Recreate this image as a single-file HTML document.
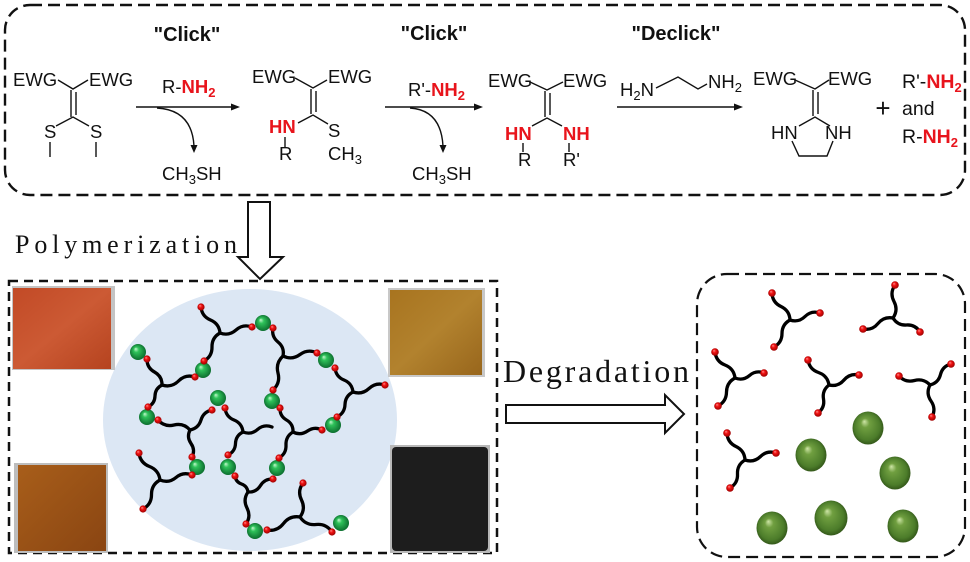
<!DOCTYPE html>
<html><head><meta charset="utf-8"><style>
html,body{margin:0;padding:0;background:#fff;}
svg{display:block;}
.ch{font-family:"Liberation Sans",Arial,sans-serif;font-size:18.5px;fill:#111;}
.rb{fill:#e8141c;font-weight:bold;}
.bd{stroke:#111;stroke-width:1.4;fill:none;}
.chain{stroke:#000;stroke-width:3.3;fill:none;stroke-linecap:round;stroke-linejoin:round;}
</style></head><body>
<svg width="970" height="562" viewBox="0 0 970 562" xmlns="http://www.w3.org/2000/svg">
<defs>
<radialGradient id="gg" cx="50%" cy="50%" r="55%" fx="35%" fy="30%">
<stop offset="0%" stop-color="#c8f8d0"/><stop offset="30%" stop-color="#2fc25a"/><stop offset="100%" stop-color="#08652a"/></radialGradient>
<radialGradient id="og" cx="50%" cy="50%" r="55%" fx="38%" fy="30%">
<stop offset="0%" stop-color="#cfe6a8"/><stop offset="25%" stop-color="#709f40"/><stop offset="75%" stop-color="#4c7c2a"/><stop offset="100%" stop-color="#2b4b14"/></radialGradient>
<radialGradient id="rg" cx="50%" cy="50%" r="55%" fx="35%" fy="30%">
<stop offset="0%" stop-color="#ff9090"/><stop offset="40%" stop-color="#f01010"/><stop offset="100%" stop-color="#900000"/></radialGradient>
<linearGradient id="p1" x1="0" y1="0" x2="1" y2="1"><stop offset="0" stop-color="#c24a26"/><stop offset="0.5" stop-color="#cc5a34"/><stop offset="1" stop-color="#b5431f"/></linearGradient>
<linearGradient id="p2" x1="0" y1="0" x2="1" y2="1"><stop offset="0" stop-color="#a85e1a"/><stop offset="1" stop-color="#8a4512"/></linearGradient>
<linearGradient id="p3" x1="0" y1="0" x2="1" y2="1"><stop offset="0" stop-color="#a8741f"/><stop offset="0.5" stop-color="#b2822e"/><stop offset="1" stop-color="#98661c"/></linearGradient>
</defs>

<!-- top dashed box -->
<rect x="5" y="5" width="960" height="190" rx="25" fill="none" stroke="#111" stroke-width="2.4" stroke-dasharray="12 6"/>

<!-- headers -->
<g font-family="Liberation Sans, Arial, sans-serif" font-weight="bold" font-size="20" fill="#111" text-anchor="middle">
<text x="187" y="41">"Click"</text>
<text x="434" y="40">"Click"</text>
<text x="676" y="40">"Declick"</text>
</g>

<!-- molecule 1 -->
<text class="ch" x="13" y="86">EWG</text>
<text class="ch" x="89" y="86">EWG</text>
<polyline class="bd" points="58,80 73,89 88,80"/>
<line class="bd" x1="71" y1="90" x2="71" y2="117"/>
<line class="bd" x1="76" y1="92" x2="76" y2="115"/>
<polyline class="bd" points="56,126 73,117 89,126"/>
<text class="ch" x="44" y="138">S</text>
<text class="ch" x="90" y="138">S</text>
<line class="bd" x1="50" y1="142" x2="50" y2="157"/>
<line class="bd" x1="96" y1="142" x2="96" y2="157"/>

<!-- arrow 1 -->
<line class="bd" x1="136" y1="107" x2="233" y2="107"/>
<polygon points="240,107 231,103.5 231,110.5" fill="#111"/>
<text class="ch" x="162" y="93">R-<tspan class="rb">NH</tspan><tspan class="rb" font-size="13" dy="4">2</tspan></text>
<path class="bd" d="M157 108 Q192 110 194 146"/>
<polygon points="194,153 190.5,145 197.5,145" fill="#111"/>
<text class="ch" x="162" y="180">CH<tspan font-size="13" dy="4">3</tspan><tspan dy="-4">SH</tspan></text>

<!-- molecule 2 -->
<text class="ch" x="252" y="83">EWG</text>
<text class="ch" x="328" y="83">EWG</text>
<polyline class="bd" points="295,78 313,88 327,80"/>
<line class="bd" x1="311" y1="89" x2="311" y2="114"/>
<line class="bd" x1="316" y1="91" x2="316" y2="112"/>
<polyline class="bd" points="298,123 313,115 328,124"/>
<text class="ch" x="269" y="133"><tspan class="rb">HN</tspan></text>
<line class="bd" x1="285" y1="137" x2="285" y2="147"/>
<text class="ch" x="279" y="160">R</text>
<text class="ch" x="328" y="137">S</text>
<text class="ch" x="328" y="160">CH<tspan font-size="13" dy="4">3</tspan></text>

<!-- arrow 2 -->
<line class="bd" x1="385" y1="107" x2="476" y2="107"/>
<polygon points="483,107 474,103.5 474,110.5" fill="#111"/>
<text class="ch" x="408" y="96">R'-<tspan class="rb">NH</tspan><tspan class="rb" font-size="13" dy="4">2</tspan></text>
<path class="bd" d="M410 108 Q441 110 443 146"/>
<polygon points="443,153 439.5,145 446.5,145" fill="#111"/>
<text class="ch" x="412" y="180">CH<tspan font-size="13" dy="4">3</tspan><tspan dy="-4">SH</tspan></text>

<!-- molecule 3 -->
<text class="ch" x="488" y="87">EWG</text>
<text class="ch" x="563" y="87">EWG</text>
<polyline class="bd" points="530,82 547,90 563,82"/>
<line class="bd" x1="545" y1="91" x2="545" y2="117"/>
<line class="bd" x1="550" y1="93" x2="550" y2="115"/>
<polyline class="bd" points="532,126 547,118 562,126"/>
<text class="ch" x="505" y="140"><tspan class="rb">HN</tspan></text>
<text class="ch" x="563" y="140"><tspan class="rb">NH</tspan></text>
<line class="bd" x1="523" y1="143" x2="523" y2="152"/>
<line class="bd" x1="569" y1="143" x2="569" y2="152"/>
<text class="ch" x="518" y="166">R</text>
<text class="ch" x="563" y="166">R'</text>

<!-- arrow 3 -->
<line class="bd" x1="617" y1="107" x2="736" y2="107"/>
<polygon points="743,107 734,103.5 734,110.5" fill="#111"/>
<text class="ch" x="620" y="96">H<tspan font-size="13" dy="4">2</tspan><tspan dy="-4">N</tspan></text>
<polyline class="bd" points="656,88 678,77 698,89 707,84"/>
<text class="ch" x="708" y="88">NH<tspan font-size="13" dy="4">2</tspan></text>

<!-- molecule 4 -->
<text class="ch" x="753" y="85">EWG</text>
<text class="ch" x="828" y="85">EWG</text>
<polyline class="bd" points="795,80 815,89 829,80"/>
<line class="bd" x1="813" y1="90" x2="813" y2="116"/>
<line class="bd" x1="818" y1="92" x2="818" y2="114"/>
<polyline class="bd" points="799,126 815,117 830,126"/>
<text class="ch" x="771" y="139">HN</text>
<text class="ch" x="825" y="139">NH</text>
<polyline class="bd" points="792,141 799,156 827,156 833,141"/>

<text x="883" y="117" font-family="Liberation Sans, Arial, sans-serif" font-size="26" text-anchor="middle" fill="#111">+</text>
<g font-family="Liberation Sans, Arial, sans-serif" font-size="19.5" fill="#111">
<text x="902" y="88">R'-<tspan class="rb">NH</tspan><tspan class="rb" font-size="13" dy="4">2</tspan></text>
<text x="902" y="115">and</text>
<text x="902" y="143">R-<tspan class="rb">NH</tspan><tspan class="rb" font-size="13" dy="4">2</tspan></text>
</g>

<!-- Polymerization -->
<text x="15" y="253" font-family="Liberation Serif, serif" font-size="26" fill="#111" textLength="222" lengthAdjust="spacing">Polymerization</text>
<polygon points="248,202 270,202 270,257 283,257 260,279 238,257 248,257" fill="#fff" stroke="#111" stroke-width="2"/>

<!-- bottom-left box -->
<rect x="9" y="281" width="488" height="272" fill="none" stroke="#111" stroke-width="2.5" stroke-dasharray="9 6"/>
<ellipse cx="250" cy="420" rx="147" ry="131" fill="#dce7f4"/>

<!-- photos -->
<rect x="12" y="286" width="103" height="84" fill="#c4c4c4"/>
<rect x="13" y="288" width="98" height="81" fill="url(#p1)"/>
<rect x="14" y="463" width="94" height="90" fill="#bdbdbd"/>
<rect x="18" y="465" width="88" height="86" fill="url(#p2)"/>
<rect x="388" y="288" width="97" height="89" fill="#c8c8c8"/>
<rect x="390" y="290" width="92" height="85" fill="url(#p3)"/>
<rect x="390" y="445" width="100" height="108" fill="#b8b8b8"/>
<rect x="392" y="447" width="96" height="104" rx="4" fill="#1d1d1d"/>

<!-- network chains -->
<g class="chain">
<path d="M220 333 Q219.2 323.7 210.5 320 T201 307"/>
<path d="M220 333 Q228.9 336.3 236 330 T252 327"/>
<path d="M220 333 Q211.8 337.6 212 347 T204 361"/>
<path d="M162 385 Q162.2 376.3 154.5 372 T147 359"/>
<path d="M162 385 Q171.5 388 178.5 381 T195 377"/>
<path d="M162 385 Q155.2 388.4 155 396 T148 407"/>
<path d="M283 356 Q284.7 347.5 278 342 T273 328"/>
<path d="M283 356 Q292 360.4 300 354.5 T317 353"/>
<path d="M283 356 Q275.4 363 278 373 T273 390"/>
<path d="M353 392 Q352.1 383.3 344 380 T335 368"/>
<path d="M353 392 Q362 395 369 388.5 T385 385"/>
<path d="M353 392 Q345.3 395.9 345 404.5 T337 417"/>
<path d="M190 430 Q183.5 422.7 174 425 T158 420"/>
<path d="M190 430 Q198.5 428.3 201 420 T212 410"/>
<path d="M190 430 Q186.5 437 191 443.5 T192 457"/>
<path d="M243 432 Q242.1 423.3 234 420 T225 408"/>
<path d="M243 432 Q251 435.1 257.5 429.5 T272 427"/>
<path d="M243 432 Q235.8 435.5 235.5 443.5 T228 455"/>
<path d="M293 432 Q293.4 424 286.5 420 T280 408"/>
<path d="M293 432 Q300.6 435.9 307.5 431 T322 430"/>
<path d="M293 432 Q285.6 436.4 286 445 T279 458"/>
<path d="M160 480 Q158.8 470.1 149.5 466.5 T139 453"/>
<path d="M160 480 Q168.8 483.6 176 477.5 T192 475"/>
<path d="M160 480 Q151.4 484.7 151.5 494.5 T143 509"/>
<path d="M248 492 Q247.2 486 241.5 484 T235 476"/>
<path d="M248 492 Q256.2 492.5 260.5 485.5 T273 479"/>
<path d="M248 492 Q242.7 499.7 247 508 T246 524"/>
<path d="M300 517 Q305.9 509 301.5 500 T303 483"/>
<path d="M300 517 Q289.8 515.3 283.5 523.5 T267 530"/>
<path d="M300 517 Q305.8 525.6 316 524.5 T332 532"/>
</g>
<!-- green crosslinkers -->
<g fill="url(#gg)">
<circle cx="263" cy="323" r="8"/><circle cx="203" cy="370" r="8"/><circle cx="138" cy="352" r="8"/>
<circle cx="147" cy="417" r="8"/><circle cx="326" cy="360" r="8"/><circle cx="272" cy="401" r="8"/>
<circle cx="333" cy="425" r="8"/><circle cx="218" cy="398" r="8"/><circle cx="197" cy="467" r="8"/>
<circle cx="228" cy="467" r="8"/><circle cx="277" cy="468" r="8"/><circle cx="255" cy="531" r="8"/>
<circle cx="341" cy="523" r="8"/>
</g>
<g fill="url(#rg)">
<circle cx="201" cy="307" r="3.6"/><circle cx="252" cy="327" r="3.6"/><circle cx="204" cy="361" r="3.6"/>
<circle cx="147" cy="359" r="3.6"/><circle cx="195" cy="377" r="3.6"/><circle cx="148" cy="407" r="3.6"/>
<circle cx="273" cy="328" r="3.6"/><circle cx="317" cy="353" r="3.6"/><circle cx="273" cy="390" r="3.6"/>
<circle cx="335" cy="368" r="3.6"/><circle cx="385" cy="385" r="3.6"/><circle cx="337" cy="417" r="3.6"/>
<circle cx="158" cy="420" r="3.6"/><circle cx="212" cy="410" r="3.6"/><circle cx="192" cy="457" r="3.6"/>
<circle cx="225" cy="408" r="3.6"/><circle cx="228" cy="455" r="3.6"/>
<circle cx="280" cy="408" r="3.6"/><circle cx="322" cy="430" r="3.6"/><circle cx="279" cy="458" r="3.6"/>
<circle cx="139" cy="453" r="3.6"/><circle cx="192" cy="475" r="3.6"/><circle cx="143" cy="509" r="3.6"/>
<circle cx="235" cy="476" r="3.6"/><circle cx="273" cy="479" r="3.6"/><circle cx="246" cy="524" r="3.6"/>
<circle cx="303" cy="483" r="3.6"/><circle cx="267" cy="530" r="3.6"/><circle cx="332" cy="532" r="3.6"/>
</g>

<!-- Degradation -->
<text x="503" y="382" font-family="Liberation Serif, serif" font-size="32" fill="#111" textLength="186" lengthAdjust="spacing">Degradation</text>
<polygon points="506,405 665,405 665,395 684,414 665,433 665,423 506,423" fill="#fff" stroke="#111" stroke-width="2"/>

<!-- bottom-right box -->
<rect x="697" y="274" width="268" height="283" rx="30" fill="none" stroke="#111" stroke-width="2.2" stroke-dasharray="12 6"/>
<g class="chain">
<path d="M790 320 Q789.6 310.6 781 306.5 T772 293"/>
<path d="M790 320 Q798.6 322.8 805 316.5 T820 313"/>
<path d="M790 320 Q782 324.4 782 333.5 T774 347"/>
<path d="M893 318 Q898.5 310 894 301.5 T895 285"/>
<path d="M893 318 Q883.9 316.3 878 323.5 T863 329"/>
<path d="M893 318 Q897.7 325.6 906.5 325 T920 332"/>
<path d="M735 378 Q733.9 368.5 725 365 T715 352"/>
<path d="M735 378 Q743 381.1 749.5 375.5 T764 373"/>
<path d="M735 378 Q726.6 382.5 726.5 392 T718 406"/>
<path d="M829 385 Q827.5 375.6 818.5 372.5 T808 360"/>
<path d="M829 385 Q838 387 844 380 T859 375"/>
<path d="M829 385 Q822 390.4 823.5 399 T818 413"/>
<path d="M930 385 Q923.6 378.1 914.5 380.5 T899 376"/>
<path d="M930 385 Q938.4 382.9 940.5 374.5 T951 364"/>
<path d="M930 385 Q925.7 393.3 931 401 T932 417"/>
<path d="M745 460 Q744.6 450.6 736 446.5 T727 433"/>
<path d="M745 460 Q753.8 462.9 760.5 456.5 T776 453"/>
<path d="M745 460 Q737 464.8 737.5 474 T730 488"/>
</g>
<g fill="url(#rg)">
<circle cx="772" cy="293" r="3.8"/><circle cx="820" cy="313" r="3.8"/><circle cx="774" cy="347" r="3.8"/>
<circle cx="895" cy="285" r="3.8"/><circle cx="863" cy="329" r="3.8"/><circle cx="920" cy="332" r="3.8"/>
<circle cx="715" cy="352" r="3.8"/><circle cx="764" cy="373" r="3.8"/><circle cx="718" cy="406" r="3.8"/>
<circle cx="808" cy="360" r="3.8"/><circle cx="859" cy="375" r="3.8"/><circle cx="818" cy="413" r="3.8"/>
<circle cx="899" cy="376" r="3.8"/><circle cx="951" cy="364" r="3.8"/><circle cx="932" cy="417" r="3.8"/>
<circle cx="727" cy="433" r="3.8"/><circle cx="776" cy="453" r="3.8"/><circle cx="730" cy="488" r="3.8"/>
</g>
<g fill="url(#og)">
<ellipse cx="868" cy="428" rx="15.5" ry="16.5"/>
<ellipse cx="811" cy="455" rx="15.5" ry="16.5"/>
<ellipse cx="895" cy="473" rx="15.5" ry="16.5"/>
<ellipse cx="772" cy="528" rx="15.5" ry="16.5"/>
<ellipse cx="831" cy="518" rx="16.5" ry="17.5"/>
<ellipse cx="903" cy="526" rx="15.5" ry="16.5"/>
</g>
</svg>
</body></html>
